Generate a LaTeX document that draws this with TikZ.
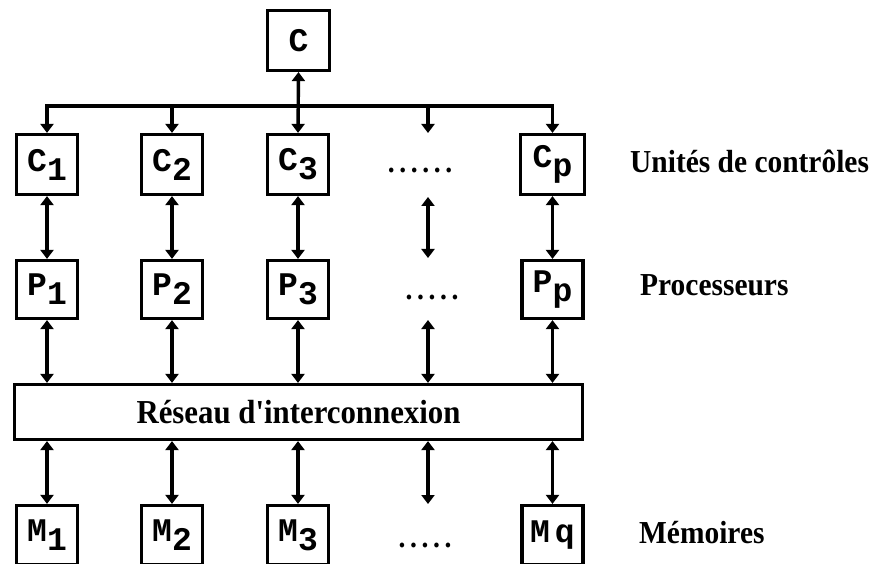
\documentclass[tikz,border=0pt]{standalone}
\usepackage{fontspec}
\setmainfont{Liberation Serif}
\newfontfamily\boxfont{Liberation Mono}
\newfontfamily\labfont{Liberation Serif}[FakeStretch=0.92]
\usetikzlibrary{arrows.meta}
\newcommand\lab[2]{#1\raisebox{-9pt}{#2}}
\newcommand\dd{\makebox[11.5pt]{.}}
\begin{document}
\begin{tikzpicture}[x=1pt,y=-1pt,
  box/.style={draw, line width=3.2pt, minimum width=61pt, minimum height=60pt, inner sep=0pt,
    font=\boxfont\bfseries\fontsize{33}{33}\selectfont},
  tip/.tip={Triangle[width=13pt,length=9pt]},
  link/.style={line width=3.4pt, -tip},
  blink/.style={line width=3.4pt, tip-tip},
  side/.style={anchor=base west, inner sep=0pt, font=\labfont\bfseries\fontsize{32}{32}\selectfont},
  dotrow/.style={anchor=base, inner sep=0pt, font=\labfont\bfseries\fontsize{30}{30}\selectfont}]
\useasboundingbox (0,0) rectangle (881,564);
% top controller
\node[box, minimum width=62pt] (C0) at (298.5,40.5) {C};
% control units
\node[box] (C1) at (47,164.5) {\lab{C}{1}};
\node[box] (C2) at (172,164.5) {\lab{C}{2}};
\node[box] (C3) at (298,164.5) {\lab{C}{3}};
\node[box, minimum width=64pt] (Cp) at (552.5,164.5) {\lab{C}{p}};
\node[dotrow] (dC) at (420,173) {\dd\dd\dd\dd\dd\dd};
% processors
\node[box, minimum height=58pt] (P1) at (47,289.5) {\lab{P}{1}};
\node[box, minimum height=58pt] (P2) at (172,289.5) {\lab{P}{2}};
\node[box, minimum height=58pt] (P3) at (298,289.5) {\lab{P}{3}};
\node[box, minimum height=58pt] (Pp) at (552.5,289.5) {\lab{P}{p}};
\node[dotrow] (dP) at (432,299) {\dd\dd\dd\dd\dd};
% network
\node[box, minimum width=568pt, minimum height=55pt, font=\labfont\bfseries\fontsize{33.5}{33.5}\selectfont] (N) at (298.5,412) {Réseau d'interconnexion};
% memories
\node[box, minimum height=59pt] (M1) at (47,535) {\lab{M}{1}};
\node[box, minimum height=59pt] (M2) at (172,535) {\lab{M}{2}};
\node[box, minimum height=59pt] (M3) at (298,535) {\lab{M}{3}};
\node[box, minimum height=59pt] (Mq) at (552.5,535) {M\hspace{5pt}q};
\node[dotrow] (dM) at (425,547) {\dd\dd\dd\dd\dd};
% side labels
\node[side] (LC) at (630,173) {Unités de contrôles};
\node[side] (LP) at (640,295) {Processeurs};
\node[side] (LM) at (639,543) {Mémoires};
% bus
\coordinate (b1) at (47,106);
\coordinate (b2) at (172,106);
\coordinate (b4) at (428,106);
\coordinate (bp) at (552.5,106);
\coordinate (e4) at (428,133);
\draw[line width=3.4pt] (45.3,106) -- (554.2,106);
\draw[blink] (C0.south) -- (C3.north);
\draw[link] (b1) -- (C1.north);
\draw[link] (b2) -- (C2.north);
\draw[link] (b4) -- (e4);
\draw[link] (bp) -- (Cp.north);
% control <-> processors
\coordinate (u1) at (428,197);
\coordinate (u2) at (428,258);
\draw[blink] (C1.south) -- (P1.north);
\draw[blink] (C2.south) -- (P2.north);
\draw[blink] (C3.south) -- (P3.north);
\draw[blink] (u1) -- (u2);
\draw[blink] (Cp.south) -- (Pp.north);
% processors <-> network
\coordinate (v1) at (428,320);
\draw[blink] (P1.south) -- (P1.south |- N.north);
\draw[blink] (P2.south) -- (P2.south |- N.north);
\draw[blink] (P3.south) -- (P3.south |- N.north);
\draw[blink] (v1) -- (v1 |- N.north);
\draw[blink] (Pp.south) -- (Pp.south |- N.north);
% network <-> memories
\coordinate (w1) at (428,504);
\draw[blink] (M1.north |- N.south) -- (M1.north);
\draw[blink] (M2.north |- N.south) -- (M2.north);
\draw[blink] (M3.north |- N.south) -- (M3.north);
\draw[blink] (w1 |- N.south) -- (w1);
\draw[blink] (Mq.north |- N.south) -- (Mq.north);
\end{tikzpicture}
\end{document}
